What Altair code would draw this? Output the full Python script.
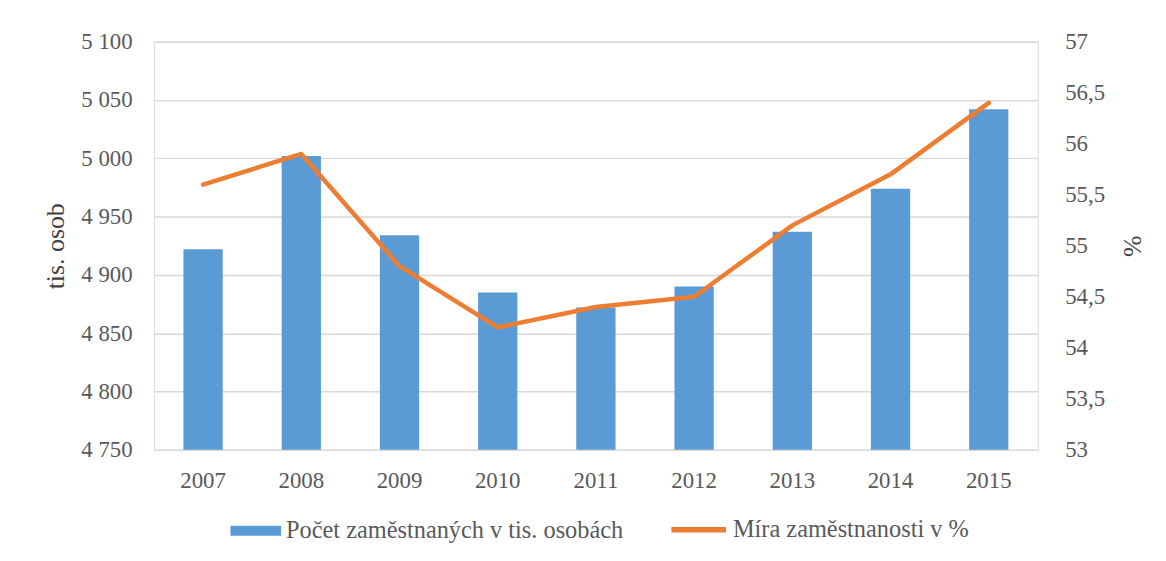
import altair as alt
import pandas as pd

years = ["2007", "2008", "2009", "2010", "2011", "2012", "2013", "2014", "2015"]
employed = [4922, 5002, 4934, 4885, 4872, 4890, 4937, 4974, 5042]
rate = [55.6, 55.9, 54.8, 54.2, 54.4, 54.5, 55.2, 55.7, 56.4]

bar_label = "Počet zaměstnaných v tis. osobách"
line_label = "Míra zaměstnanosti v %"

df = pd.DataFrame({
    "year": years,
    "employed": employed,
    "rate": rate,
    "bar_series": [bar_label] * len(years),
    "line_series": [line_label] * len(years),
})

FONT = "Liberation Serif"
LBL = "#595959"
TTL = "#404040"

x = alt.X("year:N", title=None,
          scale=alt.Scale(paddingInner=0.6, paddingOuter=0.3),
          axis=alt.Axis(labelAngle=0, domain=False, ticks=False, labelPadding=20,
                        labelFont=FONT, labelFontSize=23, labelColor=LBL))

bars = alt.Chart(df).mark_bar(color="#5B9BD5", clip=True).encode(
    x=x,
    y=alt.Y("employed:Q", title="tis. osob",
            scale=alt.Scale(domain=[4750, 5100], zero=False, nice=False),
            axis=alt.Axis(values=[4750, 4800, 4850, 4900, 4950, 5000, 5050, 5100],
                          labelExpr="replace(format(datum.value, ','), ',', ' ')",
                          domain=False, ticks=False, grid=True, gridColor="#d9d9d9",
                          gridWidth=1.5, labelPadding=22,
                          labelFont=FONT, labelFontSize=23, labelColor=LBL,
                          titleFont=FONT, titleFontSize=26, titleFontWeight="normal",
                          titleColor=TTL, titlePadding=12)),
    color=alt.Color("bar_series:N", title=None,
                    scale=alt.Scale(domain=[bar_label], range=["#5B9BD5"]),
                    legend=alt.Legend(orient="none", legendX=77, legendY=467,
                                      symbolType="M-1,-0.2H1V0.2H-1Z", symbolSize=2601,
                                      symbolStrokeWidth=0, symbolOpacity=1,
                                      labelFont=FONT, labelFontSize=24.5, labelColor=LBL,
                                      padding=0, labelOffset=5, labelLimit=600)),
)

line = alt.Chart(df).mark_line(strokeWidth=4.5, strokeCap="round", strokeJoin="round").encode(
    x=x,
    y=alt.Y("rate:Q", title="%",
            scale=alt.Scale(domain=[53, 57], zero=False, nice=False),
            axis=alt.Axis(orient="right", values=[53, 53.5, 54, 54.5, 55, 55.5, 56, 56.5, 57],
                          labelExpr="replace(datum.value + '', '.', ',')",
                          domain=False, ticks=False, grid=False, labelPadding=27,
                          labelFont=FONT, labelFontSize=23, labelColor=LBL,
                          titleFont=FONT, titleFontSize=26, titleFontWeight="normal",
                          titleColor=TTL, titlePadding=14)),
    stroke=alt.Stroke("line_series:N", title=None,
                      scale=alt.Scale(domain=[line_label], range=["#ED7D31"]),
                      legend=alt.Legend(orient="none", legendX=518, legendY=461,
                                        symbolType="stroke", symbolSize=3025,
                                        symbolStrokeWidth=5.5,
                                        labelFont=FONT, labelFontSize=24.5, labelColor=LBL,
                                        padding=0, labelOffset=4, labelLimit=600)),
)

chart = alt.layer(bars, line).resolve_scale(
    y="independent", color="independent", stroke="independent"
).properties(
    width=890, height=411,
    autosize=alt.AutoSizeParams(type="none"),
    padding={"left": 147, "top": 32, "right": 121, "bottom": 110},
).configure_view(stroke=None).configure(background="white")

chart.save("out.html", embed_options={"renderer": "svg", "actions": False})
